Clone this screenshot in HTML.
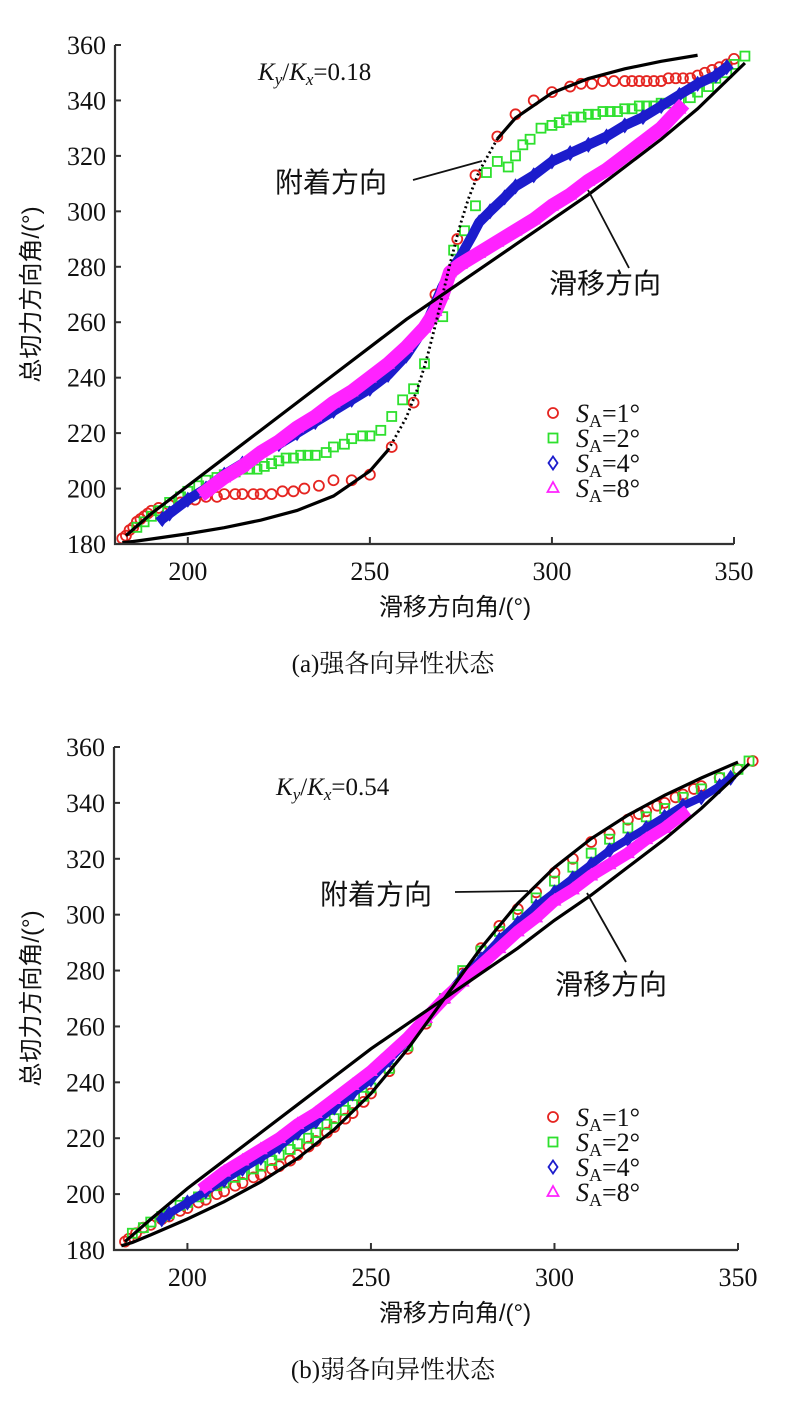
<!DOCTYPE html>
<html><head><meta charset="utf-8"><style>
html,body{margin:0;padding:0;background:#fff;}
svg{display:block;}
</style></head><body>
<svg id="fig" width="785" height="1409" viewBox="0 0 785 1409" xmlns="http://www.w3.org/2000/svg"></svg>
<script>
const curveX = [182,185,190,200,210,220,230,240,250,255,260,263,265,266,268,270,272,274,275,277,280,285,290,300,310,320,330,340];
const adhTopY = [180.5,180.9,181.8,183.7,185.9,188.6,192.1,197.3,206.3,213.9,225.6,235.7,244.1,248.8,259,270,281,291.2,295.9,304.3,314.4,326.1,333.7,342.7,347.9,351.4,354.1,356.3];
const slideX = [183,190,200,210,220,230,240,250,260,270,280,290,300,310,320,330,340,353];
const slideTopY = [183,191,201,211,221,231,241,251,261,270,279,288,297,306,316,326,337,353.5];
const slideBotY = [183,191,202,212,222,232,242,252,261,270,279,288,298,307,317,327,338,354];
const adhBotX = [182,185,190,200,210,220,230,240,250,260,270,280,290,300,310,320,330,340,350];
const adhBotY = [181.5,182.7,185.4,191.1,197.3,204.4,212.8,223.1,236,251.9,270,288.1,304,316.9,327.2,335.6,342.7,348.9,354.6];

const t1x = [182,183,184,185,186,187,188,189,190,192,195,198,200,202,205,208,210,213,215,218,220,223,226,229,232,236,240,245,250,256,262,268,274,279,285,290,295,300,305,308,311,314,317,320,322,324,326,328,330,332,334,336,338,340,342,344,346,348,350];
const t1y = [182,183,185,186,188,189,190,191,192,193,194,195,196,196,197,197,198,198,198,198,198,198,199,199,200,201,203,203,205,215,231,270,290,313,327,335,340,343,345,346,346,347,347,347,347,347,347,347,347,348,348,348,348,349,350,351,352,353,355];
const t2x = [186,188,190,192,195,198,200,203,205,208,210,213,215,217,219,221,223,225,227,229,231,233,235,238,240,243,245,248,250,253,256,259,262,265,270,273,276,279,282,285,288,290,292,294,297,300,302,304,306,308,310,312,314,316,318,320,322,324,326,328,330,333,335,338,340,343,345,348,350,353];
const t2y = [186,188,190,192,195,197,199,201,203,204,205,206,207,207,207,208,209,210,211,211,212,212,212,213,215,216,218,219,219,221,226,232,236,245,262,286,293,302,314,318,316,320,324,326,330,331,332,333,334,334,335,335,336,336,336,337,337,338,338,338,339,339,340,341,343,345,348,350,353,356];
const t4x = [193,195,200,205,210,215,220,225,230,235,240,245,250,255,260,263,266,270,272,275,278,280,283,287,290,295,300,305,310,315,320,325,330,335,340,345,348];
const t4y = [189,191,196,200,205,209,213,216,220,224,228,232,236,241,248,254,261,273,278,284,291,296,300,305,309,313,318,321,324,327,331,334,338,342,346,349,352];
const t8x = [205,210,215,220,225,230,235,240,245,250,255,260,265,268,270,272,275,280,285,290,295,300,305,310,315,320,325,330,335];
const t8y = [199,204,208,213,217,222,226,231,235,240,245,251,258,264,270,278,281,285,289,293,297,302,306,311,315,320,325,330,337];

const b1x = [183,184,186,188,190,193,195,198,200,203,205,208,210,213,215,218,220,223,225,228,230,233,235,238,240,243,245,248,250,255,260,265,270,275,280,285,290,295,300,305,310,315,320,323,325,328,330,333,335,338,340,345,350,354];
const b1y = [183,184,186,188,189,191,192,194,195,197,198,200,201,203,204,206,207,209,210,212,214,217,219,222,224,227,229,233,236,244,252,261,270,279,288,296,302,308,315,320,326,329,334,336,337,339,340,342,343,345,346,349,352,355];
const b2x = [185,188,190,193,195,198,200,203,205,208,210,213,215,218,220,223,225,228,230,233,235,238,240,243,245,248,250,255,260,265,270,275,280,285,290,295,300,305,310,315,320,325,330,335,340,345,350,353];
const b2y = [186,188,190,192,193,196,197,199,200,203,204,206,207,209,210,212,214,216,218,220,222,225,227,230,232,235,238,245,253,262,270,280,287,294,300,306,312,317,322,327,331,335,338,342,345,349,352,355];
const b4x = [193,195,200,205,210,215,220,225,230,235,240,245,250,255,260,265,270,275,280,285,290,295,300,305,310,315,320,325,330,335,340,345,348];
const b4y = [191,193,197,201,205,209,213,217,222,226,231,236,241,248,255,263,270,278,284,291,297,303,308,313,318,323,327,331,335,339,342,346,349];
const b8x = [205,210,215,220,225,230,235,240,245,250,255,260,265,270,275,280,285,290,295,300,305,310,315,320,325,330,335];
const b8y = [203,208,212,216,220,225,229,234,239,244,250,256,263,270,276,282,288,294,299,305,309,314,318,322,327,331,336];

const xTicks = [200,250,300,350];
const yTicks = [180,200,220,240,260,280,300,320,340,360];
const legendLabels = ["1","2","4","8"];

const NS = "http://www.w3.org/2000/svg";
const svg = document.getElementById('fig');
function el(tag, attrs, parent) {
  const e = document.createElementNS(NS, tag);
  for (const k in attrs) e.setAttribute(k, attrs[k]);
  (parent || svg).appendChild(e);
  return e;
}
const COLORS = {c:"#e52420", s:"#2ee02e", d:"#1c1ccc", t:"#ff22ff"};
const SERIF = '"Liberation Serif", serif';
const SANS = '"Liberation Sans","Noto Sans CJK SC",sans-serif';

function marker(g, type, px, py) {
  let m;
  if (type === 'c') m = el('circle', {cx:px, cy:py, r:5, fill:'none', stroke:COLORS.c, 'stroke-width':1.8}, g);
  else if (type === 's') m = el('rect', {x:px-4.5, y:py-4.5, width:9, height:9, fill:'none', stroke:COLORS.s, 'stroke-width':1.8}, g);
  else if (type === 'd') m = el('polygon', {points:`${px},${py-6.5} ${px+4.5},${py} ${px},${py+6.5} ${px-4.5},${py}`, fill:'none', stroke:COLORS.d, 'stroke-width':1.8}, g);
  else m = el('polygon', {points:`${px},${py-6} ${px+5.5},${py+4} ${px-5.5},${py+4}`, fill:'none', stroke:COLORS.t, 'stroke-width':1.8}, g);
  return m;
}

function drawChart(cfg) {
  const X = v => cfg.x0 + (v - 180) * (cfg.x1 - cfg.x0) / 170;
  const Y = v => cfg.y0 - (v - 180) * (cfg.y0 - cfg.y1) / 180;
  const g = el('g', {});
  
  

  const series = [[cfg.s1x,cfg.s1y,'c','series-sa-1'],[cfg.s2x,cfg.s2y,'s','series-sa-2'],[cfg.s4x,cfg.s4y,'d','series-sa-4'],[cfg.s8x,cfg.s8y,'t','series-sa-8']];
  series.forEach(([xs,ys,type,name]) => {
    const sg = el('g', {}, g);
    
    
    if (type === 'd' || type === 't') {
      const pts = xs.map((v,i)=>X(v)+','+Y(ys[i])).join(' ');
      el('polyline', {points:pts, fill:'none', stroke:COLORS[type], 'stroke-width': type==='t'?cfg.tw:cfg.dw, 'stroke-linejoin':'round', 'stroke-linecap':'square'}, sg);
    }
    xs.forEach((v,i) => {
      const m = marker(sg, type, X(v), Y(ys[i]));
      
      
    });
  });

  const sl = el('polyline', {points: slideX.map((v,i)=>X(v)+','+Y(cfg.slideY[i])).join(' '), fill:'none', stroke:'#000', 'stroke-width':3.2}, g);
  
  
  const ax = cfg.adhX, ay = cfg.adhY;
  if (cfg.dotted) {
    const a = [], b = [], c = [];
    ax.forEach((v,i) => { const p = X(v)+','+Y(ay[i]); if (v<=255) a.push(p); if (v>=255 && v<=285) b.push(p); if (v>=285) c.push(p); });
    const l1 = el('polyline', {points:a.join(' '), fill:'none', stroke:'#000', 'stroke-width':3.2}, g);
    
    
    const l2 = el('polyline', {points:b.join(' '), fill:'none', stroke:'#000', 'stroke-width':2.8, 'stroke-dasharray':'2 3'}, g);
    
    
    const l3 = el('polyline', {points:c.join(' '), fill:'none', stroke:'#000', 'stroke-width':3.2}, g);
    
    
  } else {
    const l = el('polyline', {points: ax.map((v,i)=>X(v)+','+Y(ay[i])).join(' '), fill:'none', stroke:'#000', 'stroke-width':3.2}, g);
    
    
  }

  const axis = el('path', {d:`M${cfg.x0},${cfg.y1} L${cfg.x0},${cfg.y0} L${cfg.x1},${cfg.y0}`, fill:'none', stroke:'#333', 'stroke-width':2.2}, g);
  
  
  yTicks.forEach(v => {
    el('line', {x1:cfg.x0, x2:cfg.x0+6, y1:Y(v), y2:Y(v), stroke:'#333', 'stroke-width':2}, g);
    const t = el('text', {x:cfg.x0-9, y:Y(v)+9, 'text-anchor':'end', 'font-family':SERIF, 'font-size':26, fill:'#111'}, g);
    t.textContent = v;
    
    
  });
  xTicks.forEach(v => {
    el('line', {x1:X(v), x2:X(v), y1:cfg.y0, y2:cfg.y0-7, stroke:'#333', 'stroke-width':2}, g);
    const t = el('text', {x:X(v), y:cfg.y0+36, 'text-anchor':'middle', 'font-family':SERIF, 'font-size':26, fill:'#111'}, g);
    t.textContent = v;
    
    
  });
  const xt = el('text', {x:455, y:cfg.y0+71, 'text-anchor':'middle', 'font-family':SANS, 'font-size':24, fill:'#111'}, g);
  xt.textContent = '滑移方向角/(°)';
  
  
  const yc = (cfg.y0 + cfg.y1) / 2;
  const yt = el('text', {x:0, y:0, transform:`translate(39,${yc}) rotate(-90)`, 'text-anchor':'middle', 'font-family':SANS, 'font-size':24, fill:'#111'}, g);
  yt.textContent = '总切力方向角/(°)';
  
  
  const cap = el('text', {x:393, y:cfg.y0+128, 'text-anchor':'middle', 'font-family':'"Liberation Serif","Noto Serif CJK SC",serif', 'font-size':25, fill:'#111'}, g);
  cap.textContent = cfg.caption;
  
  

  const rl = el('text', {x:cfg.ratioX, y:cfg.ratioY, 'font-family':SERIF, 'font-size':25, fill:'#111'}, g);
  rl.innerHTML = `<tspan font-style="italic">K</tspan><tspan font-style="italic" font-size="17" dy="5">y</tspan><tspan dy="-5">/</tspan><tspan font-style="italic">K</tspan><tspan font-style="italic" font-size="17" dy="5">x</tspan><tspan dy="-5">=${cfg.ratio}</tspan>`;
  
  

  const a1 = el('text', {x:cfg.adhLbl[0], y:cfg.adhLbl[1], 'font-family':SANS, 'font-size':28, fill:'#111'}, g);
  a1.textContent = '附着方向';
  
  
  el('line', {x1:cfg.adhLine[0], y1:cfg.adhLine[1], x2:cfg.adhLine[2], y2:cfg.adhLine[3], stroke:'#111', 'stroke-width':1.8}, g);
  const a2 = el('text', {x:cfg.slLbl[0], y:cfg.slLbl[1], 'font-family':SANS, 'font-size':28, fill:'#111'}, g);
  a2.textContent = '滑移方向';
  
  
  el('line', {x1:cfg.slLine[0], y1:cfg.slLine[1], x2:cfg.slLine[2], y2:cfg.slLine[3], stroke:'#111', 'stroke-width':1.8}, g);

  const lg = el('g', {}, g);
  
  
  ['c','s','d','t'].forEach((type,i) => {
    const ly = cfg.legY + i*25;
    marker(lg, type, cfg.legX, ly);
    const t = el('text', {x:cfg.legX+23, y:ly+9, 'font-family':SERIF, 'font-size':26, fill:'#111'}, lg);
    t.innerHTML = `<tspan font-style="italic">S</tspan><tspan font-size="18" dy="5">A</tspan><tspan dy="-5">=${legendLabels[i]}°</tspan>`;
    
    
  });
}

drawChart({name:'chart-strong-anisotropy', x0:115, x1:734, y0:544, y1:45, dw:10, tw:14,
  s1x:t1x,s1y:t1y,s2x:t2x,s2y:t2y,s4x:t4x,s4y:t4y,s8x:t8x,s8y:t8y,
  slideY:slideTopY, adhX:curveX, adhY:adhTopY, dotted:true,
  caption:'(a)强各向异性状态', ratio:'0.18', ratioX:258, ratioY:80,
  adhLbl:[275,192], adhLine:[413,180,482,161], slLbl:[549,293], slLine:[629,268,588,190],
  legX:553, legY:413});
drawChart({name:'chart-weak-anisotropy', x0:114, x1:738, y0:1250, y1:747, dw:8, tw:12,
  s1x:b1x,s1y:b1y,s2x:b2x,s2y:b2y,s4x:b4x,s4y:b4y,s8x:b8x,s8y:b8y,
  slideY:slideBotY, adhX:adhBotX, adhY:adhBotY, dotted:false,
  caption:'(b)弱各向异性状态', ratio:'0.54', ratioX:276, ratioY:795,
  adhLbl:[320,904], adhLine:[455,892,528,891], slLbl:[555,994], slLine:[626,962,587,893],
  legX:553, legY:1117});
</script>
</body></html>
